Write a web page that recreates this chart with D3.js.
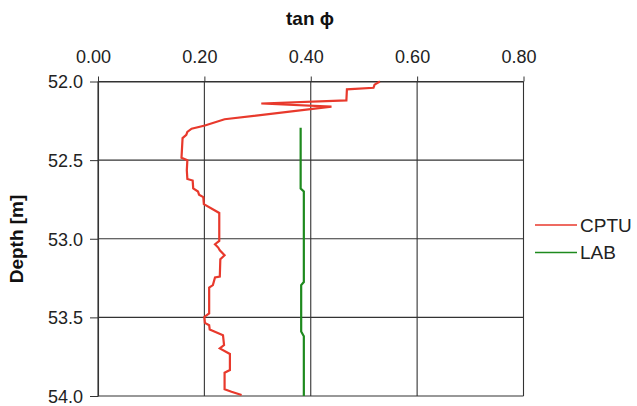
<!DOCTYPE html>
<html><head><meta charset="utf-8">
<script src="https://cdn.jsdelivr.net/npm/d3@7"></script>
<style>body{margin:0;background:#fff}svg{display:block}text{font-family:"Liberation Sans",Arial,sans-serif}</style>
</head><body>
<svg id="c" width="637" height="406"></svg>
<script>
const xTicks = [0, 0.2, 0.4, 0.6, 0.8];
const yTicks = [52.0, 52.5, 53.0, 53.5, 54.0];
const cptuTan = [0.530,0.520,0.518,0.468,0.467,0.307,0.439,0.238,0.201,0.176,0.168,0.166,0.159,0.157,0.168,0.167,0.168,0.178,0.179,0.188,0.190,0.198,0.199,0.228,0.228,0.220,0.226,0.229,0.238,0.230,0.229,0.220,0.216,0.209,0.209,0.200,0.201,0.209,0.210,0.235,0.237,0.229,0.248,0.248,0.238,0.238,0.251,0.270];
const cptuDepth = [52.00,52.02,52.04,52.05,52.12,52.14,52.16,52.24,52.28,52.30,52.32,52.34,52.36,52.485,52.50,52.565,52.62,52.63,52.68,52.70,52.72,52.735,52.78,52.836,53.014,53.035,53.056,53.073,53.105,53.13,53.24,53.246,53.295,53.31,53.475,53.497,53.535,53.55,53.577,53.613,53.676,53.697,53.733,53.835,53.852,53.957,53.973,53.994];
const labTan = [0.381,0.381,0.387,0.387,0.382,0.382,0.387,0.387];
const labDepth = [52.294,52.68,52.70,53.275,53.295,53.59,53.62,54.0];
const series = [
  {name:"CPTU", color:"#e8392c", x:cptuTan, y:cptuDepth},
  {name:"LAB", color:"#1e8a1e", x:labTan, y:labDepth}
];
const svg = d3.select("#c");
const x = d3.scaleLinear().domain([0,0.8]).range([98,523.5]);
const y = d3.scaleLinear().domain([52,54]).range([81.5,396]);
const gridColor = "#333";
// grid
svg.append("g").selectAll("line").data(xTicks).join("line")
  .attr("x1",d=>x(d)).attr("x2",d=>x(d)).attr("y1",y(52)).attr("y2",y(54))
  .attr("stroke",gridColor).attr("stroke-width",1.1);
svg.append("g").selectAll("line").data(yTicks).join("line")
  .attr("y1",d=>y(d)).attr("y2",d=>y(d)).attr("x1",x(0)).attr("x2",x(0.8))
  .attr("stroke",gridColor).attr("stroke-width",1.1);
// axes
const xAxis = svg.append("g").attr("transform",`translate(0,${y(52)})`)
  .call(d3.axisTop(x).tickValues(xTicks).tickFormat(d3.format(".2f")).tickSize(5).tickSizeOuter(0));
const yAxis = svg.append("g").attr("transform",`translate(${x(0)},0)`)
  .call(d3.axisLeft(y).tickValues(yTicks).tickFormat(d3.format(".1f")).tickSize(8).tickSizeOuter(0));
[xAxis,yAxis].forEach(a=>{a.select(".domain").attr("stroke",gridColor).attr("stroke-width",1.1);
  a.selectAll(".tick line").attr("stroke",gridColor);
  a.selectAll("text").attr("fill","#222").style("font-size","18px").style("font-family","'Liberation Sans',Arial,sans-serif");});
xAxis.selectAll("text").attr("y",-19).attr("dx",-5).attr("dy",0);
yAxis.selectAll("text").attr("x",-15).attr("dy","0.36em");
// lines
const line = d3.line().x(d=>x(d[0])).y(d=>y(d[1]));
series.forEach(s=>{
  svg.append("path").datum(s.x.map((v,i)=>[v,s.y[i]]))
    .attr("d",line).attr("fill","none").attr("stroke",s.color).attr("stroke-width",2.2);
});
// titles
svg.append("text").attr("x",310).attr("y",25).attr("text-anchor","middle")
  .style("font-size","19px").style("font-weight","bold").attr("fill","#111").text("tan ϕ");
svg.append("text").attr("transform","translate(23,239) rotate(-90)").attr("text-anchor","middle")
  .style("font-size","19px").style("font-weight","bold").attr("fill","#111").text("Depth [m]");
// legend
const lg = svg.append("g").selectAll("g").data(series).join("g")
  .attr("transform",(d,i)=>`translate(535,${225+i*27.5})`);
lg.append("line").attr("x1",0).attr("x2",42).attr("stroke",d=>d.color).attr("stroke-width",1.5);
lg.append("text").attr("x",45).attr("dy","0.36em").style("font-size","19px").attr("fill","#222").text(d=>d.name);
</script>
</body></html>
